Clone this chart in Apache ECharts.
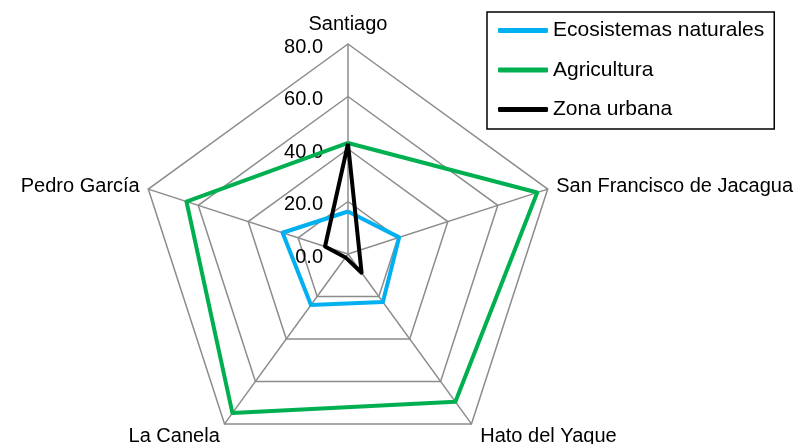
<!DOCTYPE html>
<html>
<head>
<meta charset="utf-8">
<script src="https://cdn.jsdelivr.net/npm/echarts@6/dist/echarts.min.js"></script>
<style>
  html, body { margin: 0; padding: 0; background: #fff; }
  #chart { width: 800px; height: 444px; }
</style>
</head>
<body>
<div id="chart"></div>
<script>
// categories clockwise from the top
const categories = ['Santiago', 'San Francisco de Jacagua', 'Hato del Yaque', 'La Canela', 'Pedro García']
const seriesNames = ['Ecosistemas naturales', 'Agricultura', 'Zona urbana']
const ecosistemas = [16.2, 20.5, 22.6, 24.0, 26.2]
const agricultura = [42.3, 75.8, 69.6, 74.9, 64.7]
const zonaUrbana = [42.0, 4.5, 8.8, 1.6, 9.2]
const axisMax = 80

const font = 'Liberation Sans, Arial, sans-serif'
const gridColor = '#8c8c8c'

// echarts puts indicators counterclockwise, so reorder to get them clockwise
const order = [0, 4, 3, 2, 1]
const pick = arr => order.map(i => arr[i])

let mycharts = echarts.init(document.getElementById('chart'))

mycharts.setOption({
  animation: false,
  legend: {
    orient: 'vertical',
    left: 487,
    top: 12,
    padding: [8, 10, 9, 11],
    itemGap: 18.5,
    itemWidth: 50,
    itemHeight: 5,
    icon: 'roundRect',
    borderColor: '#000',
    borderWidth: 1.5,
    textStyle: { fontFamily: font, fontSize: 21, color: '#000' },
    data: seriesNames,
  },
  radar: {
    center: [348, 254],
    radius: 210,
    startAngle: 90,
    shape: 'polygon',
    splitNumber: 4,
    nameGap: 9,
    axisName: { color: '#000', fontFamily: font, fontSize: 20 },
    axisLine: { lineStyle: { color: gridColor, width: 1.5 } },
    splitLine: { lineStyle: { color: gridColor, width: 1.5 } },
    splitArea: { show: false },
    axisTick: { show: false },
    axisLabel: { show: false },
    indicator: order.map((i, k) => {
      let ind = { name: categories[i], min: 0, max: axisMax }
      // the two bottom names sit a little further out
      if (categories[i] === 'Hato del Yaque') {
        ind.nameGap = 15
      }
      if (categories[i] === 'La Canela') {
        ind.nameGap = 15
        ind.nameTextStyle = { padding: [0, -4, 0, 0] }
      }
      // only the top axis carries the value labels
      if (k === 0) {
        ind.axisLabel = {
          show: true,
          margin: 25,
          color: '#000',
          fontFamily: font,
          fontSize: 20,
          formatter: v => '{s| }{t|' + Number(v).toFixed(1) + '}',
          rich: {
            s: { width: 1, height: 26, fontSize: 20 },
            t: { verticalAlign: 'bottom', fontFamily: font, fontSize: 20, color: '#000' },
          },
        }
      }
      return ind
    }),
  },
  series: [
    {
      type: 'radar',
      symbol: 'none',
      data: [
        { name: seriesNames[0], value: pick(ecosistemas), lineStyle: { color: '#00b0f0', width: 4 }, itemStyle: { color: '#00b0f0' } },
        { name: seriesNames[1], value: pick(agricultura), lineStyle: { color: '#00b050', width: 4 }, itemStyle: { color: '#00b050' } },
        { name: seriesNames[2], value: pick(zonaUrbana), lineStyle: { color: '#000000', width: 4 }, itemStyle: { color: '#000000' } },
      ],
    },
  ],
})
</script>
</body>
</html>
